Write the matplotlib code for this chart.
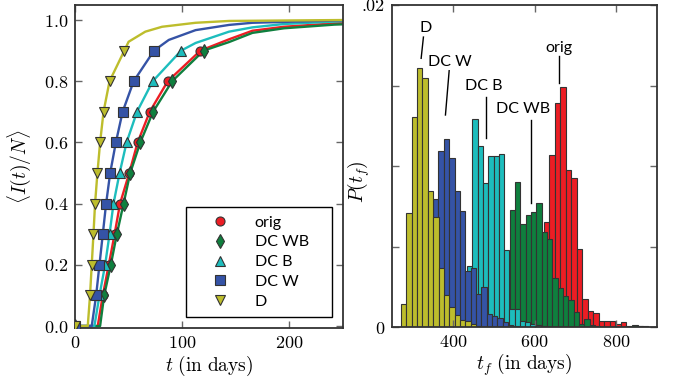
import matplotlib
matplotlib.use('Agg')
import matplotlib.pyplot as plt
import numpy as np

plt.rcParams['mathtext.fontset'] = 'cm'
plt.rcParams['font.family'] = ['Lato', 'DejaVu Sans']

names = ['orig', 'DC WB', 'DC B', 'DC W', 'D']
colors = ['#EC1D24', '#0F7F3E', '#1DBDBD', '#3553A6', '#BDBD2C']
markers = ['o', 'd', '^', 's', 'v']

# left panel: marker positions (days) at fraction levels 0, .1 ... .9
levels = [0.0, 0.1, 0.2, 0.3, 0.4, 0.5, 0.6, 0.7, 0.8, 0.9]
t_orig = [0, 25.9, 31.5, 36.9, 42.0, 50.6, 58.4, 69.7, 86.5, 117]
t_dcwb = [0, 27.2, 33.4, 39.0, 45.3, 51.5, 60.9, 72.8, 90.6, 120]
t_dcb = [0, 22.8, 28.1, 32.2, 35.9, 41.6, 48.1, 57.8, 72.5, 99]
t_dcw = [0, 19.7, 22.8, 25.9, 29.0, 32.8, 38.1, 44.4, 54.7, 73.7]
t_d = [0, 14.0, 15.6, 17.2, 18.7, 20.9, 23.4, 26.6, 32.2, 46]

# left panel: curve points (start and tail)
start_t = [21.2, 23.4, 18.1, 15.6, 11.9]
tail_orig = ([143.7, 165.5, 195, 242, 250], [0.937, 0.965, 0.978, 0.989, 0.990])
tail_dcwb = ([143.7, 165.5, 195, 242, 250], [0.928, 0.958, 0.973, 0.985, 0.986])
tail_dcb = ([112.5, 143.7, 165.5, 195, 242, 250], [0.925, 0.962, 0.976, 0.987, 0.995, 0.996])
tail_dcw = ([87.5, 112.5, 143.7, 165.5, 250], [0.935, 0.967, 0.984, 0.991, 0.999])
tail_d = ([50, 65.6, 81.2, 112.5, 143.7, 250], [0.929, 0.962, 0.978, 0.991, 0.997, 1.0])

# right panel: histograms, first bin edge, bin width (days), heights (x1e-3)
h_start = [582.7, 512.0, 421.6, 324.7, 272.4]
h_width = [13.4, 13.1, 12.9, 13.1, 13.1]
h_orig = [0.5, 1.5, 3.5, 6.54, 10.68, 13.93, 14.89, 9.75, 9.24, 4.83, 1.72, 0.98,
          0.88, 0.40, 0.40, 0.40, 0.17, 0.29, 0.05, 0, 0.05, 0.05]
h_dcwb = [1.0, 3.0, 7.27, 9.03, 6.40, 6.96, 7.16, 7.68, 5.90, 5.45, 3.02, 2.40, 1.90,
          1.70, 0.93, 0.20, 0.48, 0.10, 0.05, 0, 0, 0, 0, 0, 0, 0.15, 0.05]
h_dcb = [1.0, 3.79, 12.92, 11.24, 8.92, 10.62, 10.62, 10.72, 4.78, 1.10, 1.10, 0.35,
         0.30, 0.20, 0.10, 0.05]
h_dcw = [2.0, 5.5, 7.93, 10.93, 11.66, 10.50, 8.47, 7.20, 3.48, 3.64, 2.05, 2.47,
         0.79, 0.70, 0.54, 0.33, 0.15, 0.08]
h_d = [1.41, 7.06, 13.02, 16.07, 15.49, 8.47, 6.81, 3.64, 1.99, 1.26, 0.72, 0.43,
       0.39, 0.19, 0.05]

# annotation labels: text pos, line start, line end
ann_text = [(659.4, 0.01735), (571, 0.01352), (476.1, 0.01499), (392.6, 0.01646), (333, 0.01857)]
ann_line = [((660.1, 0.01683), (660.1, 0.01517)),
            ((590.7, 0.01286), (590.7, 0.00772)),
            ((480.2, 0.0143), (480.2, 0.01172)),
            ((390.2, 0.01592), (381.1, 0.01317)),
            ((327.1, 0.01801), (321.5, 0.01669))]

marker_t = [t_orig, t_dcwb, t_dcb, t_dcw, t_d]
tails = [tail_orig, tail_dcwb, tail_dcb, tail_dcw, tail_d]
hists = [h_orig, h_dcwb, h_dcb, h_dcw, h_d]

fig = plt.figure(figsize=(6.74, 3.84), dpi=100)
ax1 = fig.add_axes([0.1113, 0.1458, 0.3976, 0.8411])
ax2 = fig.add_axes([0.5816, 0.1484, 0.3932, 0.8385])

edge = '#333333'
for i in range(5):
    lt = [start_t[i]] + marker_t[i][1:] + tails[i][0]
    lv = [0.0] + levels[1:] + tails[i][1]
    ax1.plot([0] + lt, [0] + lv, color=colors[i], lw=1.7, zorder=2)
for i in range(5):
    ax1.plot(marker_t[i], levels, ls='none', marker=markers[i], color=colors[i],
             mec=edge, mew=0.8, ms=7.5 if markers[i] == 'd' else 6.5,
             label=names[i], zorder=3)

ax1.set_xlim(0, 250)
ax1.set_ylim(-0.0065, 1.049)
ax1.set_xticks([0, 100, 200])
ax1.set_xticklabels(['$0$', '$100$', '$200$'])
ax1.set_yticks([0, 0.2, 0.4, 0.6, 0.8, 1.0])
ax1.set_yticklabels(['$0.0$', '$0.2$', '$0.4$', '$0.6$', '$0.8$', '$1.0$'])
ax1.set_xlabel(r'$t\ \mathrm{(in\ days)}$', fontsize=14, labelpad=2)
ax1.set_ylabel(r'$\langle I(t)/N\rangle$', fontsize=14)
ax1.yaxis.set_label_coords(-0.157, 0.5)

leg = ax1.legend(loc='lower left', bbox_to_anchor=(0.414, 0.035, 0.544, 0.339),
                 mode='expand', fontsize=11.5, handlelength=3.2, handletextpad=0.6,
                 labelspacing=0.35, borderpad=0.5, fancybox=False, framealpha=1,
                 borderaxespad=0)
leg.get_frame().set_edgecolor('black')
leg.get_frame().set_linewidth(1.0)

for i in range(5):
    edges = h_start[i] + h_width[i] * np.arange(len(hists[i]))
    ax2.bar(edges, np.array(hists[i]) * 1e-3, width=h_width[i], align='edge',
            color=colors[i], edgecolor=edge, linewidth=0.8)

for i in range(5):
    ax2.text(ann_text[i][0], ann_text[i][1], names[i], ha='center', va='center',
             fontsize=11.5)
    (x0, y0), (x1, y1) = ann_line[i]
    ax2.plot([x0, x1], [y0, y1], color='black', lw=1.0)

ax2.set_xlim(250, 900)
ax2.set_ylim(0, 0.02)
ax2.set_xticks([400, 600, 800])
ax2.set_xticklabels(['$400$', '$600$', '$800$'])
ax2.set_yticks([0, 0.005, 0.01, 0.015, 0.02])
ax2.set_yticklabels(['$0$', '', '', '', '.02'])
ax2.get_yticklabels()[-1].set_family('cmr10')
ax2.set_xlabel(r'$t_f\ \mathrm{(in\ days)}$', fontsize=14, labelpad=1)
ax2.set_ylabel(r'$P(t_f)$', fontsize=14)
ax2.yaxis.set_label_coords(-0.075, 0.45)

for ax in (ax1, ax2):
    ax.tick_params(direction='in', top=True, right=True, length=5, width=1,
                   color='#666666', labelsize=13, pad=5)
    for s in ax.spines.values():
        s.set_linewidth(1.3)
        s.set_color('#333333')

fig.savefig('out.png', dpi=100)
